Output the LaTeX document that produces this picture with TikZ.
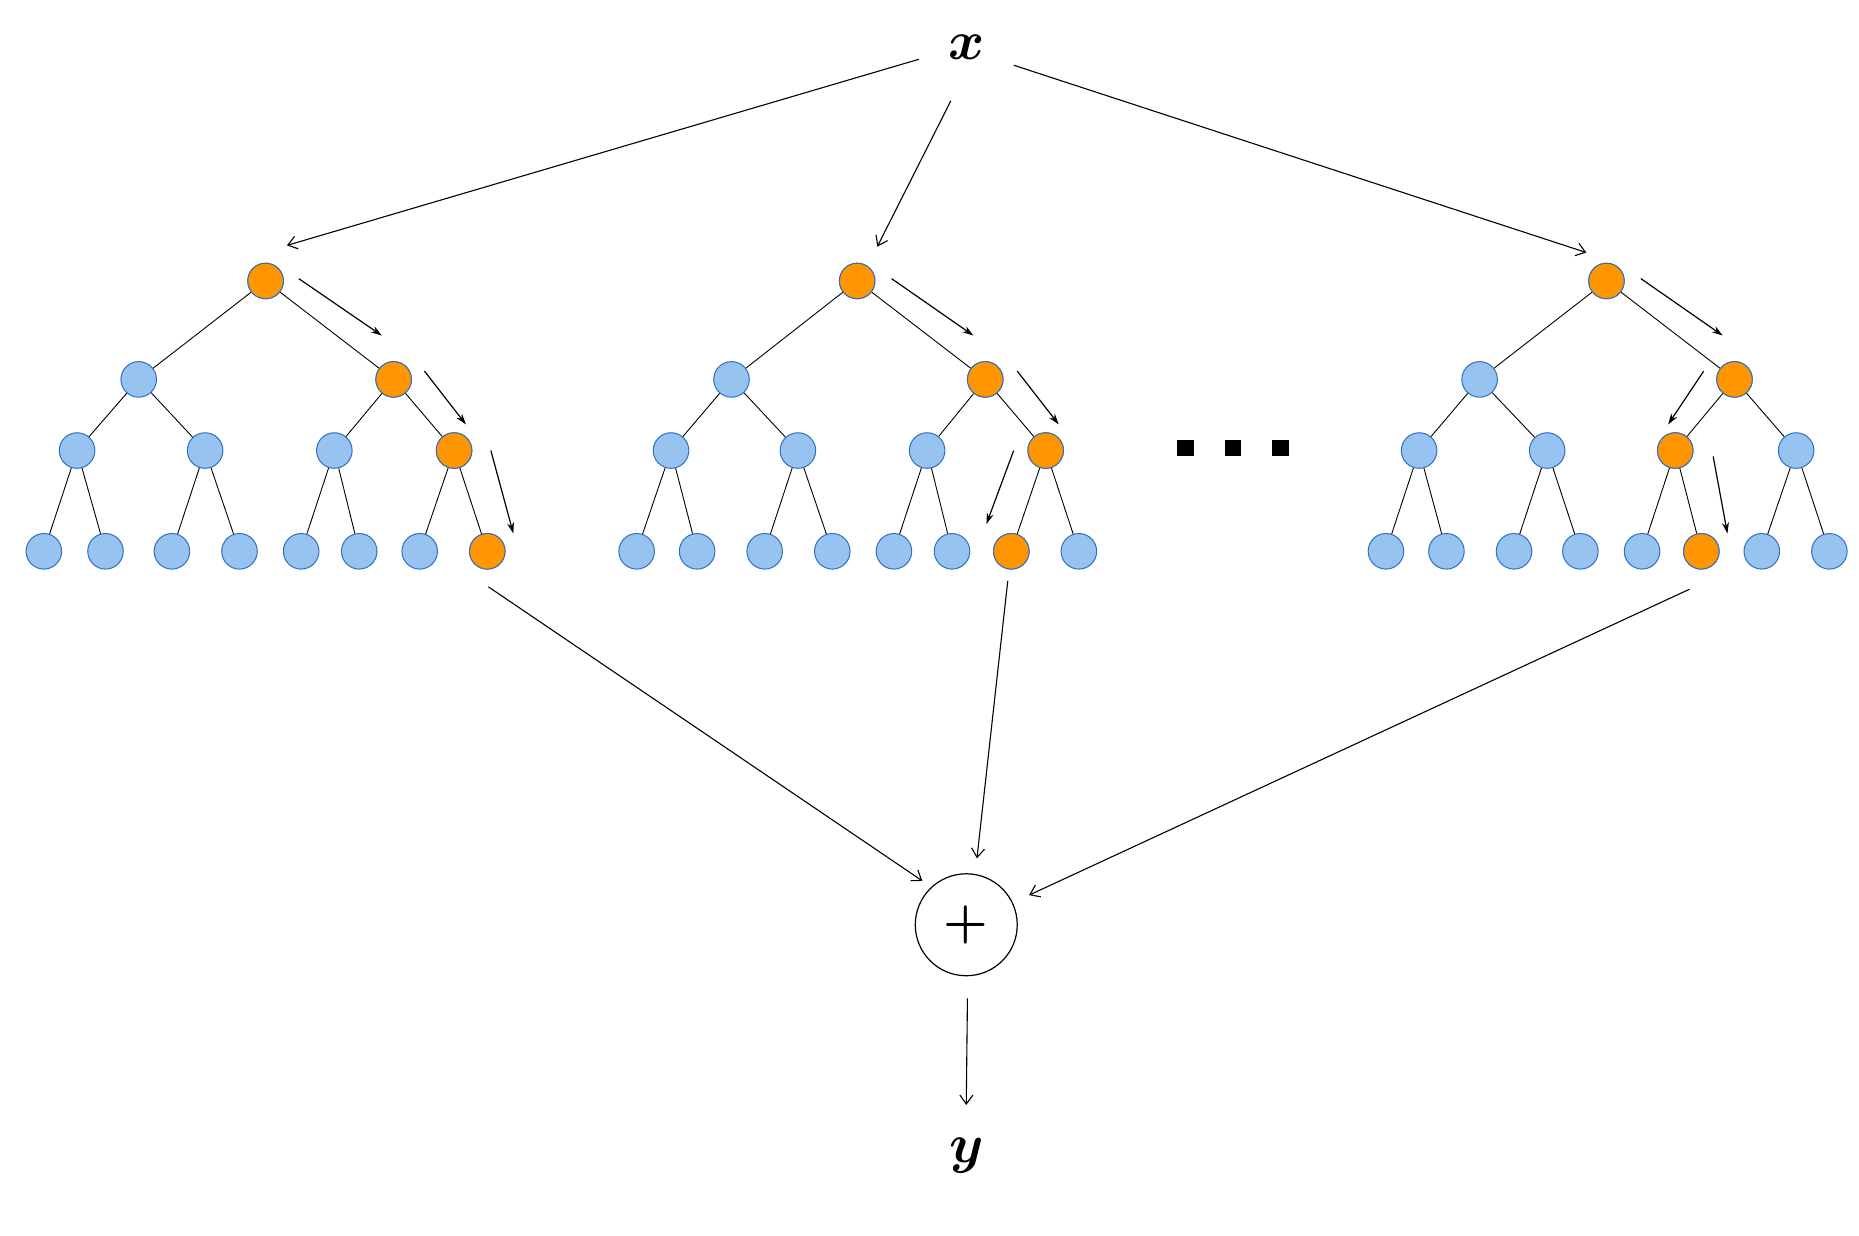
\documentclass[tikz,border=0pt]{standalone}
\usepackage{amsmath}
\usetikzlibrary{arrows.meta}
\definecolor{lb}{RGB}{150,195,240}
\definecolor{db}{RGB}{50,110,190}
\definecolor{og}{RGB}{255,150,0}
\begin{document}
\begin{tikzpicture}[x=1.186pt,y=-1.186pt,
 bl/.style={circle,draw=db,fill=lb,line width=1pt,minimum size=30*1.186pt,inner sep=0},
 or/.style={bl,fill=og},
 ed/.style={line width=0.9pt},
 ar/.style={-{Stealth[length=11pt,width=7pt]},line width=1.2pt},
 big/.style={-{Straight Barb[length=9pt,width=13pt]},line width=1.1pt}]
\useasboundingbox (0,0) rectangle (1568,1042);
\newcommand\mytree[9]{%
 \node[bl] (#1r) at (#2,237) {};
 \node[bl] (#1a) at (#3,320) {}; \node[bl] (#1b) at (#4,320) {};
 \node[bl] (#1c) at (#5,380) {}; \node[bl] (#1d) at (#6,380) {};
 \node[bl] (#1e) at (#7,380) {}; \node[bl] (#1f) at (#8,380) {};
 \foreach \xx [count=\i] in {#9} {\node[bl] (#1l\i) at (\xx,465) {};}
 \draw[ed] (#1r)--(#1a) (#1r)--(#1b) (#1a)--(#1c) (#1a)--(#1d) (#1b)--(#1e) (#1b)--(#1f)
  (#1c)--(#1l1) (#1c)--(#1l2) (#1d)--(#1l3) (#1d)--(#1l4) (#1e)--(#1l5) (#1e)--(#1l6) (#1f)--(#1l7) (#1f)--(#1l8);
}
\mytree{A}{224}{117}{332}{65}{173}{282}{383}{37,89,145,202,254,303,354,411}
\mytree{B}{723}{617}{831}{566}{673}{782}{882}{537,588,645,702,754,803,853,910}
\mytree{C}{1355}{1248}{1463}{1197}{1305}{1413}{1515}{1169,1220,1277,1333,1385,1435,1486,1543}
\foreach \n in {Ar,Ab,Af,Al8,Br,Bb,Bf,Bl7,Cr,Cb,Ce,Cl6} \node[or] at (\n) {};
\foreach \a/\b/\c/\d [count=\k] in {252/235/322/283, 358/313/393/358, 414/380/433/450,
 752/235/821/283, 858/313/893/358, 855/380/832/442,
 1384/235/1453/283, 1437/313/1407/358, 1445/385/1457/450}
 {\coordinate (p\k) at (\a,\b); \coordinate (q\k) at (\c,\d); \draw[ar] (p\k)--(q\k);}
\node[scale=5.5] (x) at (815,40) {$\boldsymbol{x}$};
\node[scale=5.5] (y) at (815,975) {$\boldsymbol{y}$};
\node[circle,draw,line width=1.2pt,minimum size=86*1.186pt,inner sep=0] (p) at (815,780) {};
\node[scale=5] at (p) {$\boldsymbol{+}$};
\foreach \xx in {1000,1040,1080} \fill (\xx-7,371) rectangle (\xx+7,385);
\coordinate (x1) at (775,50); \coordinate (t1) at (242,207);
\coordinate (x2) at (802,85); \coordinate (t2) at (740,208);
\coordinate (x3) at (855,55); \coordinate (t3) at (1338,213);
\draw[big] (x1)--(t1); \draw[big] (x2)--(t2); \draw[big] (x3)--(t3);
\coordinate (s1) at (412,495); \coordinate (e1) at (778,743);
\coordinate (s2) at (850,490); \coordinate (e2) at (824,724);
\coordinate (s3) at (1425,497); \coordinate (e3) at (868,755);
\draw[big] (s1)--(e1); \draw[big] (s2)--(e2); \draw[big] (s3)--(e3);
\coordinate (py) at (816,842); \coordinate (yt) at (815,932);
\draw[big] (py)--(yt);
\end{tikzpicture}
\end{document}
